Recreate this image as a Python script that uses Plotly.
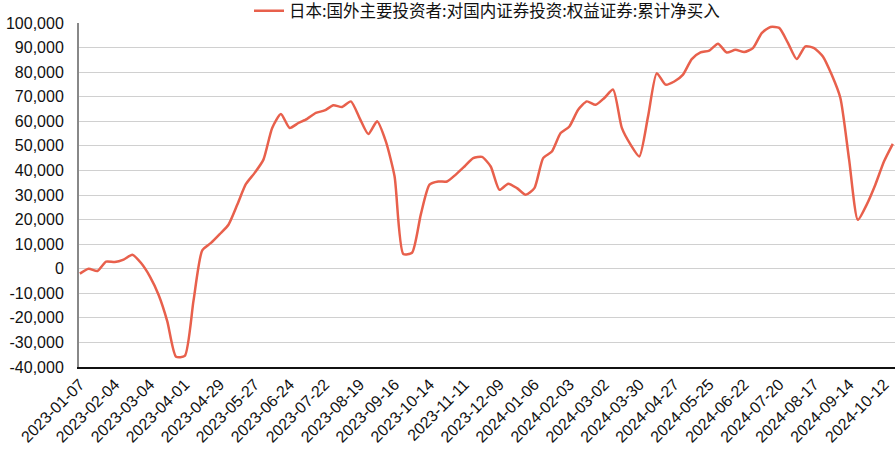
import plotly.graph_objects as go
import pandas as pd

series_name = "日本:国外主要投资者:对国内证券投资:权益证券:累计净买入"

dates = [d.strftime("%Y-%m-%d") for d in pd.date_range("2023-01-07", periods=94, freq="7D")]

values = [
    -2000, 0, -900, 2900, 2700, 3700, 5700, 2300, -3100, -10600,
    -21400, -35800, -35500, -13000, 7500, 10500, 14100, 17900, 26000, 34500,
    39000, 44400, 57300, 63000, 57300, 59300, 61000, 63400, 64400, 66500,
    65800, 68100, 61300, 54800, 60000, 51800, 37600, 6000, 6500, 22000,
    34200, 35500, 35500, 38300, 41600, 45000, 45500, 41600, 32100, 34600,
    32800, 30100, 32800, 45000, 47700, 55200, 57900, 64700, 68100, 66700,
    69500, 72900, 57300, 50500, 45700, 62000, 79600, 74900, 76200, 79000,
    85300, 88000, 88800, 91600, 88000, 89100, 88200, 89800, 95900, 98400,
    98000, 91900, 85300, 90500, 89800, 86400, 79000, 69500, 44400, 19900,
    26000, 34200, 43700, 50800,
]

tick_dates = dates[::4][:24]
y_ticks = list(range(-40000, 100001, 10000))
y_labels = [f"{v:,}" for v in y_ticks]

fig = go.Figure()
fig.add_trace(go.Scatter(
    x=dates, y=values, mode="lines", name=series_name,
    line=dict(color="#e8604c", width=2.5, shape="spline", smoothing=0.6),
))

fig.update_layout(
    width=895, height=450,
    margin=dict(l=79, r=0, t=23, b=83, autoexpand=False),
    paper_bgcolor="white", plot_bgcolor="white",
    font=dict(family="Liberation Sans, Arial, Noto Sans CJK SC", size=15, color="#111"),
    showlegend=True,
    legend=dict(orientation="h", x=0.5, xanchor="center", xref="paper",
                y=0.984, yanchor="bottom", yref="paper",
                font=dict(family="Noto Sans CJK SC, Liberation Sans", size=16.5, color="#111"),
                bgcolor="rgba(0,0,0,0)"),
    xaxis=dict(type="category", categoryorder="array", categoryarray=dates,
               range=[-0.1, 93.25], tickmode="array", tickvals=tick_dates, ticktext=tick_dates,
               tickangle=-45, showgrid=False, showline=True, linecolor="#111", linewidth=1.5,
               ticks="", tickfont=dict(size=16), zeroline=False, automargin=False),
    yaxis=dict(range=[-40000, 100000], tickmode="array", tickvals=y_ticks, ticktext=y_labels,
               showgrid=True, gridcolor="#d0d0d0", gridwidth=1.2, zeroline=False,
               showline=True, linecolor="#888", linewidth=2, ticks="", tickfont=dict(size=16),
               ticklabelstandoff=10, automargin=False),
)

fig.write_html("out.html", config={"displayModeBar": False},
               post_script="document.body.style.margin='0';")
